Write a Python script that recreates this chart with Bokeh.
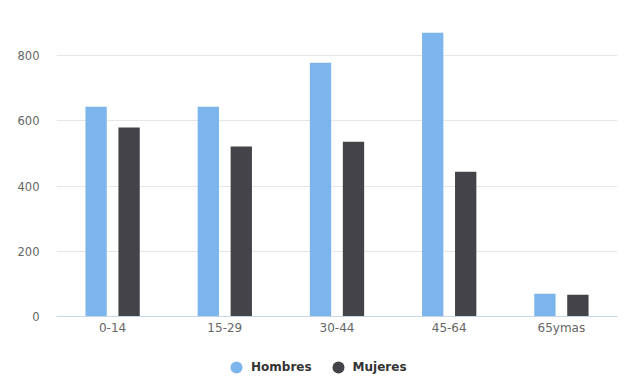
from bokeh.plotting import figure
from bokeh.layouts import column
from bokeh.models import ColumnDataSource, FactorRange, Legend, LegendItem, Range1d, FixedTicker
from bokeh.transform import dodge
from bokeh.embed import file_html
from bokeh.resources import INLINE

categories = ["0-14", "15-29", "30-44", "45-64", "65ymas"]
hombres = [643, 643, 778, 870, 70]
mujeres = [579, 521, 536, 444, 67]
y_ticks = [0, 200, 400, 600, 800]
series_names = ["Hombres", "Mujeres"]
series_colors = ["#7cb5ec", "#434348"]

src = ColumnDataSource(dict(cat=categories, h=hombres, m=mujeres))

p = figure(x_range=FactorRange(*categories), y_range=Range1d(0, 938),
           width=619, height=340, output_backend="svg",
           toolbar_location=None, min_border_left=56, min_border_top=10,
           min_border_right=2, min_border_bottom=24)
p.x_range.range_padding = 0
p.outline_line_color = None
p.background_fill_color = "white"
p.border_fill_color = "white"

p.vbar(x=dodge("cat", -0.147, range=p.x_range), top="h", width=0.19, source=src,
       fill_color=series_colors[0], line_color=None)
p.vbar(x=dodge("cat", 0.147, range=p.x_range), top="m", width=0.19, source=src,
       fill_color=series_colors[1], line_color=None)

p.yaxis.ticker = FixedTicker(ticks=y_ticks)
p.yaxis.axis_line_color = None
p.yaxis.major_tick_line_color = None
p.yaxis.minor_tick_line_color = None
p.yaxis.major_tick_out = 0
p.yaxis.major_tick_in = 0
p.yaxis.major_label_text_color = "#666666"
p.yaxis.major_label_text_font = "DejaVu Sans"
p.yaxis.major_label_text_font_size = "11.5px"
p.yaxis.major_label_standoff = 17

p.xaxis.axis_line_color = "#ccd6eb"
p.xaxis.major_tick_line_color = None
p.xaxis.minor_tick_line_color = None
p.xaxis.major_tick_out = 0
p.xaxis.major_tick_in = 0
p.xaxis.major_label_text_color = "#666666"
p.xaxis.major_label_text_font = "DejaVu Sans"
p.xaxis.major_label_text_font_size = "12px"
p.xaxis.major_label_standoff = 4
p.xaxis.group_text_font_size = "0px"

p.xgrid.grid_line_color = None
p.ygrid.grid_line_color = "#e6e6e6"
p.ygrid.ticker = FixedTicker(ticks=y_ticks)

# legend strip (own figure, no axes; dummy glyphs lie outside its visible range)
pl = figure(width=619, height=36, output_backend="svg", toolbar_location=None,
            min_border=0, x_range=Range1d(0, 1), y_range=Range1d(0, 1),
            x_axis_location=None, y_axis_location=None)
pl.grid.visible = False
pl.outline_line_color = None
items = []
for name, col in zip(series_names, series_colors):
    r = pl.scatter(x=[5], y=[5], size=13, marker="circle", fill_color=col, line_color=None)
    items.append(LegendItem(label=name, renderers=[r]))
legend = Legend(items=items, orientation="horizontal", location=(165, -6),
                label_text_font="DejaVu Sans", label_text_font_size="12px",
                label_text_font_style="bold", label_text_color="#333333",
                border_line_color=None, background_fill_alpha=0,
                glyph_width=30, glyph_height=30, spacing=11, label_standoff=-3,
                padding=2, margin=0)
pl.add_layout(legend, "center")

layout = column(p, pl, spacing=0)
open("out.html", "w").write(file_html(layout, INLINE))
